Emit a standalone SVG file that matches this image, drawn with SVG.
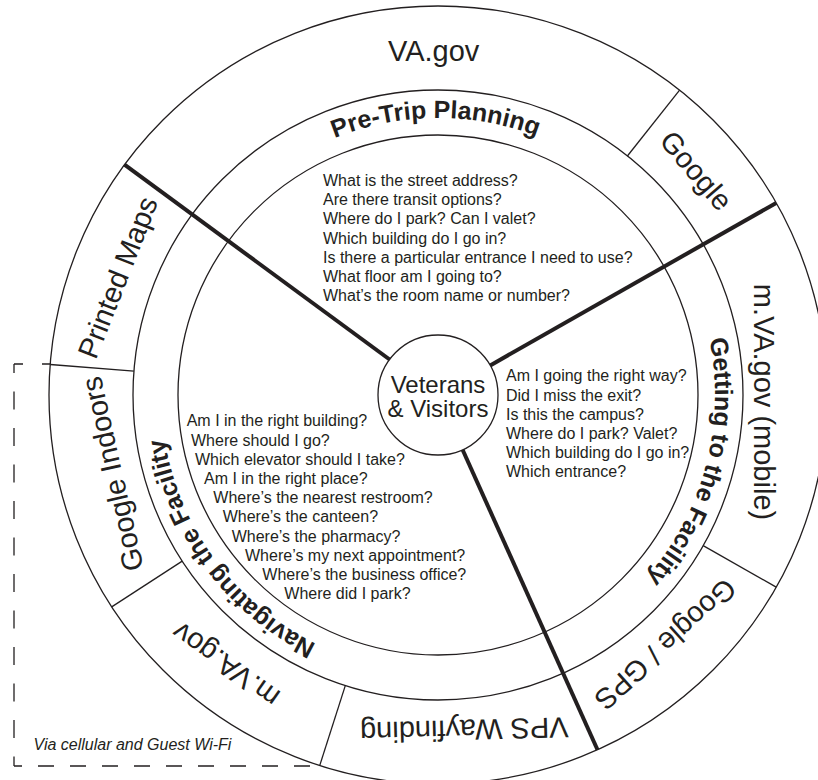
<svg xmlns="http://www.w3.org/2000/svg" width="818" height="780" viewBox="0 0 818 780">
<defs>
<style>
.ln{fill:none;stroke:#231f20;stroke-width:1.3}
.thick{fill:none;stroke:#231f20;stroke-width:4}
.dash{fill:none;stroke:#231f20;stroke-width:1.3}
text{font-family:"Liberation Sans",Arial,Helvetica,sans-serif;fill:#231f20}
.src{font-size:29px;text-anchor:middle}
.ttl{font-size:25px;font-weight:bold;text-anchor:middle}
.q{font-size:16px}
.ctr{font-size:24px;text-anchor:middle}
.note{font-size:16px;font-style:italic}
</style>
<path id="arcPre" d="M440.42,672 A277,277 0 1,1 435.58,118 A277,277 0 1,1 440.42,672"/>
<path id="arcGet" d="M170.19,324.24 A277,277 0 1,1 705.81,465.76 A277,277 0 1,1 170.19,324.24"/>
<path id="arcNav" d="M660.67,230.23 A277,277 0 1,1 215.33,559.77 A277,277 0 1,1 660.67,230.23"/>
</defs>
<rect width="818" height="780" fill="#ffffff"/>

<g id="wifi-zone">
<line class="dash" x1="14" y1="364" x2="50" y2="364" stroke-dasharray="9 19"/>
<line class="dash" x1="14" y1="364" x2="14" y2="766" stroke-dasharray="18 18.5" stroke-dashoffset="9"/>
<line class="dash" x1="14" y1="766" x2="322" y2="766" stroke-dasharray="16 16" stroke-dashoffset="8"/>
<text class="note" x="33.5" y="750">Via cellular and Guest Wi-Fi</text>
</g>

<g id="rings">
<circle class="ln" cx="438" cy="395" r="389" fill="#ffffff" style="fill:#ffffff"/>
<circle class="ln" cx="438" cy="395" r="305"/>
<circle class="ln" cx="438" cy="395" r="260"/>
</g>

<g id="connectors">
<line class="ln" x1="627.4" y1="156.0" x2="679.6" y2="90.1"/>
<line class="ln" x1="703.2" y1="545.6" x2="776.2" y2="587.1"/>
<line class="ln" x1="345.3" y1="685.6" x2="319.7" y2="765.6"/>
<line class="ln" x1="182.2" y1="561.1" x2="111.7" y2="606.9"/>
<line class="ln" x1="133.9" y1="371.1" x2="50.2" y2="364.5"/>
<line class="thick" x1="389.6" y1="359.5" x2="124.5" y2="164.7"/>
<line class="thick" x1="490.2" y1="365.4" x2="776.2" y2="202.9"/>
<line class="thick" x1="462.6" y1="449.7" x2="597.5" y2="749.8"/>
</g>

<g id="center">
<circle class="ln" cx="438" cy="395" r="60" style="fill:#ffffff"/>
<text class="ctr" x="438" y="393">Veterans</text>
<text class="ctr" x="438" y="417">&amp; Visitors</text>
</g>

<g id="pre-trip-planning">
<text class="ttl"><textPath href="#arcPre" startOffset="50%">Pre-Trip Planning</textPath></text>
<text class="q" x="323">
<tspan x="323" y="186">What is the street address?</tspan>
<tspan x="323" y="205.2">Are there transit options?</tspan>
<tspan x="323" y="224.4">Where do I park? Can I valet?</tspan>
<tspan x="323" y="243.6">Which building do I go in?</tspan>
<tspan x="323" y="262.8">Is there a particular entrance I need to use?</tspan>
<tspan x="323" y="282">What floor am I going to?</tspan>
<tspan x="323" y="301.2">What’s the room name or number?</tspan>
</text>
</g>

<g id="getting-to-the-facility">
<text class="ttl"><textPath href="#arcGet" startOffset="50%">Getting to the Facility</textPath></text>
<text class="q">
<tspan x="506" y="381.4">Am I going the right way?</tspan>
<tspan x="506" y="400.6">Did I miss the exit?</tspan>
<tspan x="506" y="419.8">Is this the campus?</tspan>
<tspan x="506" y="439">Where do I park? Valet?</tspan>
<tspan x="506" y="458.2">Which building do I go in?</tspan>
<tspan x="506" y="477.4">Which entrance?</tspan>
</text>
</g>

<g id="navigating-the-facility">
<text class="ttl"><textPath href="#arcNav" startOffset="50%">Navigating the Facility</textPath></text>
<text class="q">
<tspan x="186.7" y="426.4">Am I in the right building?</tspan>
<tspan x="191" y="445.6">Where should I go?</tspan>
<tspan x="195" y="464.8">Which elevator should I take?</tspan>
<tspan x="204" y="484">Am I in the right place?</tspan>
<tspan x="213.3" y="503.2">Where’s the nearest restroom?</tspan>
<tspan x="222.7" y="522.4">Where’s the canteen?</tspan>
<tspan x="231.7" y="541.6">Where’s the pharmacy?</tspan>
<tspan x="245" y="560.8">Where’s my next appointment?</tspan>
<tspan x="262.3" y="580">Where’s the business office?</tspan>
<tspan x="284.3" y="599.2">Where did I park?</tspan>
</text>
</g>

<g id="source-va-gov"><text class="src" x="433.7" y="60.5">VA.gov</text></g>
<g id="source-google"><text class="src" x="435" y="63" transform="rotate(49.5 438 395)">Google</text></g>
<g id="source-m-va-gov-mobile"><text class="src" x="445" y="79" transform="rotate(90 438 395)">m.VA.gov (mobile)</text></g>
<g id="source-google-gps"><text class="src" x="437" y="67.5" transform="rotate(137.8 438 395)">Google / GPS</text></g>
<g id="source-vps-wayfinding"><text class="src" x="420.5" y="69.5" transform="rotate(178.5 438 395)">VPS Wayfinding</text></g>
<g id="source-m-va-gov"><text class="src" x="454" y="62" transform="rotate(215.5 438 395)">m.VA.gov</text></g>
<g id="source-google-indoors"><text class="src" x="432" y="70" transform="rotate(257.4 438 395)">Google Indoors</text></g>
<g id="source-printed-maps"><text class="src" x="430" y="64" transform="rotate(-68.5 438 395)">Printed Maps</text></g>
</svg>
